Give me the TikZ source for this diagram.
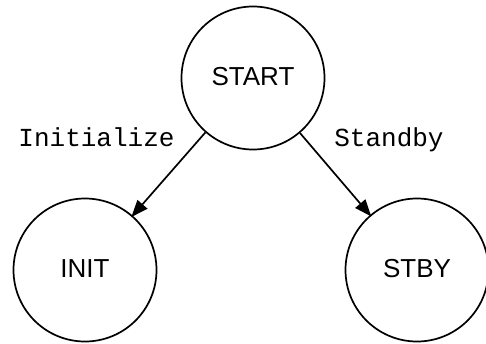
\documentclass[tikz,border=0pt]{standalone}
\usepackage{fontspec}
\setmainfont{Liberation Sans}
\newfontfamily\codefont{Liberation Mono}
\usetikzlibrary{arrows.meta}
\begin{document}
\begin{tikzpicture}[x=1pt,y=-1pt,
  state/.style={draw, circle, line width=1.7pt, minimum size=143pt, inner sep=0pt,
    font=\fontsize{26}{30}\selectfont, text depth=0.3em},
  trans/.style={line width=1.7pt, shorten >=-2pt, -{Triangle[length=17pt,width=13pt]}},
  tlabel/.style={anchor=base, inner sep=0pt, font=\codefont\fontsize{26}{30}\selectfont}]
  \useasboundingbox (0,0) rectangle (486,343);
  % states
  \node[state] (start) at (253,78) {START};
  \node[state] (init) at (85,270) {INIT};
  \node[state] (stby) at (417,270) {STBY};
  % transitions
  \draw[trans] (start) -- (init);
  \draw[trans] (start) -- (stby);
  \node[tlabel] (linit) at (96.5,146) {Initialize};
  \node[tlabel] (lstby) at (389,146) {Standby};
\end{tikzpicture}
\end{document}
